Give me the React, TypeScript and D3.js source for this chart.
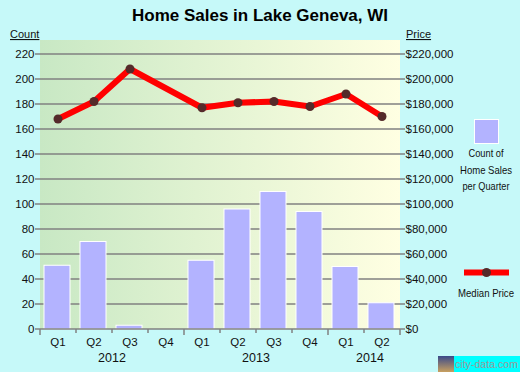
import React from "react";
import * as d3 from "d3";

const quarters = ["Q1", "Q2", "Q3", "Q4", "Q1", "Q2", "Q3", "Q4", "Q1", "Q2"];
const years = ["2012", "2012", "2012", "2012", "2013", "2013", "2013", "2013", "2014", "2014"];
const salesCount = [51, 70, 3, 0, 55, 96, 110, 94, 50, 21];
const medianPrice = [168000, 182000, 208000, null, 177000, 181000, 182000, 178000, 188000, 170000];
const countTicks = [0, 20, 40, 60, 80, 100, 120, 140, 160, 180, 200, 220];
const priceTicks = [0, 20000, 40000, 60000, 80000, 100000, 120000, 140000, 160000, 180000, 200000, 220000];

const W = 520;
const H = 372;
const font = "'Liberation Sans', Arial, sans-serif";

export default function App() {
  const left = 40, right = 400, top = 40, bottom = 329;
  const ids = quarters.map((_, i) => String(i));
  const x = d3.scaleBand().domain(ids).range([left, right]);
  const y = d3.scaleLinear().domain([0, 231.2]).range([bottom, top]);
  const yp = d3.scaleLinear().domain([0, 231200]).range([bottom, top]);
  const bw = x.bandwidth();
  const barW = 26;

  const pts = medianPrice
    .map((v, i) => ({ v, i }))
    .filter((d) => d.v !== null) as { v: number; i: number }[];
  const line = d3
    .line<{ v: number; i: number }>()
    .x((d) => (x(String(d.i)) as number) + bw / 2)
    .y((d) => yp(d.v));

  const yearGroups = d3.groups(years.map((yr, i) => ({ yr, i })), (d) => d.yr);
  const fmt = (v: number) => "$" + d3.format(",")(v);

  const legendText = (s: string, yy: number, len: number) => (
    <text x={486} y={yy} textAnchor="middle" fontSize={10.5} fill="#111" textLength={len} lengthAdjust="spacingAndGlyphs">{s}</text>
  );

  return (
    <svg width={W} height={H} style={{ position: "absolute", left: 0, top: 0, fontFamily: font }}>
      <defs>
        <linearGradient id="bg" x1="0" x2="1" y1="0" y2="0">
          <stop offset="0" stopColor="#c8e8c4" />
          <stop offset="1" stopColor="#ffffe2" />
        </linearGradient>
        <linearGradient id="sky" x1="0" x2="0" y1="0" y2="1">
          <stop offset="0" stopColor="#3a4a8a" />
          <stop offset="1" stopColor="#c8a060" />
        </linearGradient>
      </defs>
      <rect x={0} y={0} width={W} height={H} fill="#c6f9f9" />
      <rect x={left} y={top} width={right - left} height={bottom - top} fill="url(#bg)" />

      <text x={260} y={21} textAnchor="middle" fontSize={17} fontWeight="bold" fill="#000">
        Home Sales in Lake Geneva, WI
      </text>

      <text x={10} y={38} fontSize={11} fill="#111" textDecoration="underline">Count</text>
      <text x={406} y={38} fontSize={11} fill="#111" textDecoration="underline">Price</text>

      {countTicks.map((t) => (
        <g key={"c" + t}>
          {t > 0 && <line x1={left} x2={right} y1={y(t)} y2={y(t)} stroke="#808080" strokeWidth={1.5} />}
          <line x1={35} x2={left} y1={y(t)} y2={y(t)} stroke="#808080" strokeWidth={1.5} />
          <text x={34.5} y={y(t) + 4} textAnchor="end" fontSize={11.5} fill="#111">{t}</text>
        </g>
      ))}
      {priceTicks.map((t) => (
        <g key={"p" + t}>
          <line x1={right} x2={405} y1={yp(t)} y2={yp(t)} stroke="#808080" strokeWidth={1.5} />
          <text x={405.5} y={yp(t) + 4} fontSize={11.5} fill="#111">{fmt(t)}</text>
        </g>
      ))}

      {salesCount.map((v, i) =>
        v > 0 ? (
          <rect
            key={"b" + i}
            x={(x(String(i)) as number) + (bw - barW) / 2 - 1}
            y={y(v)}
            width={barW}
            height={bottom - y(v)}
            fill="#b3b3ff"
            stroke="#fff"
            strokeWidth={1}
          />
        ) : null
      )}

      <line x1={left} x2={right} y1={bottom} y2={bottom} stroke="#808080" strokeWidth={1.5} />
      {d3.range(quarters.length + 1).map((k) => {
        const xx = left + k * bw;
        const isYear = k === 0 || k === quarters.length || years[k] !== years[k - 1];
        return <line key={"t" + k} x1={xx} x2={xx} y1={bottom} y2={bottom + (isYear ? 6 : 4)} stroke="#808080" strokeWidth={1.5} />;
      })}
      {quarters.map((q, i) => (
        <text key={"q" + i} x={(x(String(i)) as number) + bw / 2} y={346} textAnchor="middle" fontSize={11.5} fill="#111">{q}</text>
      ))}
      {yearGroups.map(([yr, arr]) => {
        const x0 = x(String(arr[0].i)) as number;
        const x1 = (x(String(arr[arr.length - 1].i)) as number) + bw;
        return (
          <text key={yr} x={(x0 + x1) / 2 + (arr.length < 4 ? 6 : 0)} y={362} textAnchor="middle" fontSize={12.5} fill="#111">{yr}</text>
        );
      })}

      <path d={line(pts) || ""} fill="none" stroke="#ff0000" strokeWidth={6} strokeLinejoin="round" />
      {pts.map((d) => (
        <circle key={"d" + d.i} cx={(x(String(d.i)) as number) + bw / 2} cy={yp(d.v)} r={4.5} fill="#552a2a" />
      ))}

      <rect x={474.5} y={119.5} width={24} height={24} fill="#b3b3ff" stroke="#fff" strokeWidth={1} />
      {legendText("Count of", 157, 35)}
      {legendText("Home Sales", 173.5, 52)}
      {legendText("per Quarter", 190, 47)}

      <line x1={464} x2={509} y1={272.5} y2={272.5} stroke="#ff0000" strokeWidth={6} />
      <circle cx={486.5} cy={272.5} r={4.5} fill="#552a2a" />
      {legendText("Median Price", 297, 56)}

      <rect x={438} y={356} width={16} height={16} fill="url(#sky)" />
      <rect x={454} y={356} width={66} height={16} fill="#00ffff" />
      <text x={455} y={368} fontSize={11} fill="#9a9a9a" textLength={63} lengthAdjust="spacingAndGlyphs">city-data.com</text>
    </svg>
  );
}
